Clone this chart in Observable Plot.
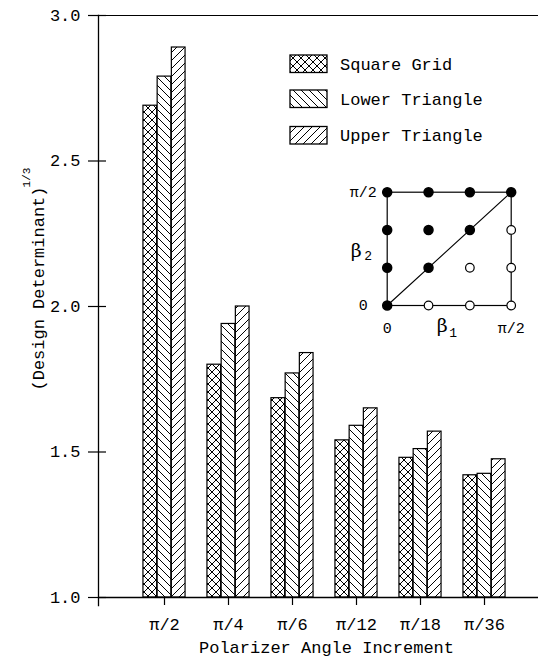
<!DOCTYPE html>
<html><head><meta charset="utf-8">
<script src="https://cdn.jsdelivr.net/npm/d3@7"></script>
<script src="https://cdn.jsdelivr.net/npm/@observablehq/plot@0.6"></script>
<style>
body{margin:0;background:#fff;}
#wrap{position:relative;width:539px;height:666px;overflow:hidden;}
#wrap > *{position:absolute;}
</style></head><body><div id="wrap"></div>
<script>
// ---- data ----
const categories = ["π/2", "π/4", "π/6", "π/12", "π/18", "π/36"];
const squareGrid = [2.69, 1.80, 1.685, 1.54, 1.48, 1.42];
const lowerTriangle = [2.79, 1.94, 1.77, 1.59, 1.51, 1.425];
const upperTriangle = [2.89, 2.00, 1.84, 1.65, 1.57, 1.475];
const seriesNames = ["Square Grid", "Lower Triangle", "Upper Triangle"];
const yTicks = [1.0, 1.5, 2.0, 2.5, 3.0];
const xTitle = "Polarizer Angle Increment";
const yTitle = "(Design Determinant)";
const yTitleExp = "1/3";
// inset diagram
const insetFilled = [[0,0],[0,1],[1,1],[0,2],[1,2],[2,2],[0,3],[1,3],[2,3],[3,3]];
const insetOpen = [[1,0],[2,0],[3,0],[2,1],[3,1],[3,2]];
const insetDiagonal = [[0,0],[3,3]];
const insetTicks = [0, 3];
const insetTickLabels = ["0", "π/2"];

// ---- setup ----
const wrap = document.getElementById("wrap");
const font = "'Liberation Mono', 'DejaVu Sans Mono', monospace";

// patterns
const defsSvg = d3.create("svg").attr("width", 0).attr("height", 0).style("left", "0px").style("top", "0px");
const defs = defsSvg.append("defs");
function pattern(id, path) {
  const p = defs.append("pattern").attr("id", id).attr("patternUnits", "userSpaceOnUse")
    .attr("width", 8).attr("height", 8);
  p.append("rect").attr("width", 8).attr("height", 8).attr("fill", "#fff");
  p.append("path").attr("d", path).attr("stroke", "#000").attr("stroke-width", 1).attr("fill", "none");
}
pattern("pSquare", "M0,0L8,8M8,0L0,8");
pattern("pLower", "M0,0L8,8M-2,6L2,10M6,-2L10,2");
pattern("pUpper", "M0,8L8,0M-2,2L2,-2M6,10L10,6");
wrap.appendChild(defsSvg.node());
const fills = ["url(#pSquare)", "url(#pLower)", "url(#pUpper)"];

const table = categories.map((c, i) => ({c, sq: squareGrid[i], lo: lowerTriangle[i], up: upperTriangle[i]}));
const band = 64.5, barW = 14.2, off0 = band / 2 - 1.5 * barW;
function bars(key, k) {
  return Plot.barY(table, {
    x: "c", y1: 1, y2: key, fill: fills[k], stroke: "#000", strokeWidth: 1.2,
    insetLeft: off0 + k * barW, insetRight: band - off0 - (k + 1) * barW
  });
}

const chart = Plot.plot({
  width: 539, height: 666,
  marginLeft: 98, marginRight: 1, marginTop: 15, marginBottom: 69,
  x: {domain: categories, range: [163 - band / 2, 163 + band * 5.5], padding: 0},
  y: {domain: [1, 3]},
  style: {fontFamily: font, fontSize: "17px", color: "#000", background: "transparent"},
  marks: [
    bars("sq", 0), bars("lo", 1), bars("up", 2),
    Plot.ruleY([3], {stroke: "#000", strokeWidth: 1.1}),
    Plot.ruleY([1], {stroke: "#000", strokeWidth: 1.3}),
    Plot.frame({anchor: "left", insetBottom: -8, stroke: "#000", strokeWidth: 1.3}),
    Plot.axisY({ticks: yTicks, tickFormat: d3.format(".1f"), tickSize: 10, tickPadding: 8, label: null, strokeWidth: 1.2}),
    Plot.axisY({ticks: yTicks, tickSize: -8, text: null, label: null, strokeWidth: 1.2}),
    Plot.axisX({tickSize: 8, tickPadding: 12, label: null, strokeWidth: 1.2}),
    Plot.text([xTitle], {frameAnchor: "bottom", dx: 8, dy: 50, lineAnchor: "middle", fontSize: 17}),
    Plot.text([yTitle], {frameAnchor: "left", textAnchor: "middle", rotate: -90, dx: -60, dy: -18, lineAnchor: "middle", fontSize: 17}),
    Plot.text([yTitleExp], {frameAnchor: "left", textAnchor: "middle", rotate: -90, dx: -72, dy: -129, lineAnchor: "middle", fontSize: 11})
  ]
});
chart.style.left = "0px"; chart.style.top = "0px";
wrap.appendChild(chart);

// inset
const inset = Plot.plot({
  width: 199, height: 170,
  marginLeft: 46.7, marginRight: 28.3, marginTop: 21.7, marginBottom: 35,
  x: {domain: [0, 3]}, y: {domain: [0, 3]},
  style: {fontFamily: font, fontSize: "15px", color: "#000", background: "transparent", overflow: "visible"},
  marks: [
    Plot.frame({stroke: "#000", strokeWidth: 1.2}),
    Plot.line(insetDiagonal, {x: d => d[0], y: d => d[1], stroke: "#000", strokeWidth: 1.1}),
    Plot.dot(insetOpen, {x: d => d[0], y: d => d[1], r: 4.3, fill: "#fff", stroke: "#000", strokeWidth: 1.2}),
    Plot.dot(insetFilled, {x: d => d[0], y: d => d[1], r: 4.5, fill: "#000", stroke: "#000"}),
    Plot.axisX({ticks: insetTicks, tickFormat: d => insetTickLabels[insetTicks.indexOf(d)], tickSize: 0, tickPadding: 17, label: null}),
    Plot.axisY({ticks: insetTicks, tickFormat: d => insetTickLabels[insetTicks.indexOf(d)], tickSize: 0, tickPadding: 24, textAnchor: "middle", label: null}),
    Plot.text(["β"], {frameAnchor: "left", textAnchor: "middle", dx: -31, dy: 2, fontSize: 19, fontFamily: "'DejaVu Serif', serif", lineAnchor: "middle"}),
    Plot.text(["2"], {frameAnchor: "left", textAnchor: "middle", dx: -19, dy: 7, fontSize: 13, lineAnchor: "middle"}),
    Plot.text(["β"], {frameAnchor: "bottom", textAnchor: "middle", dx: -7, dy: 20, fontSize: 19, fontFamily: "'DejaVu Serif', serif", lineAnchor: "middle"}),
    Plot.text(["1"], {frameAnchor: "bottom", textAnchor: "middle", dx: 4, dy: 27, fontSize: 13, lineAnchor: "middle"})
  ]
});
inset.style.left = "340px"; inset.style.top = "170px";
wrap.appendChild(inset);

// legend
const lg = d3.create("svg").attr("width", 250).attr("height", 110).style("left", "285px").style("top", "50px")
  .style("font-family", font).style("font-size", "17px");
const rowTop = [5, 40, 76.5];
seriesNames.forEach((name, k) => {
  lg.append("rect").attr("x", 5).attr("y", rowTop[k]).attr("width", 37).attr("height", 17.5)
    .attr("fill", fills[k]).attr("stroke", "#000").attr("stroke-width", 1.3);
  lg.append("text").attr("x", 55).attr("y", rowTop[k] + 8.75).attr("dy", "0.35em").attr("fill", "#000").text(name);
});
wrap.appendChild(lg.node());
</script></body></html>
